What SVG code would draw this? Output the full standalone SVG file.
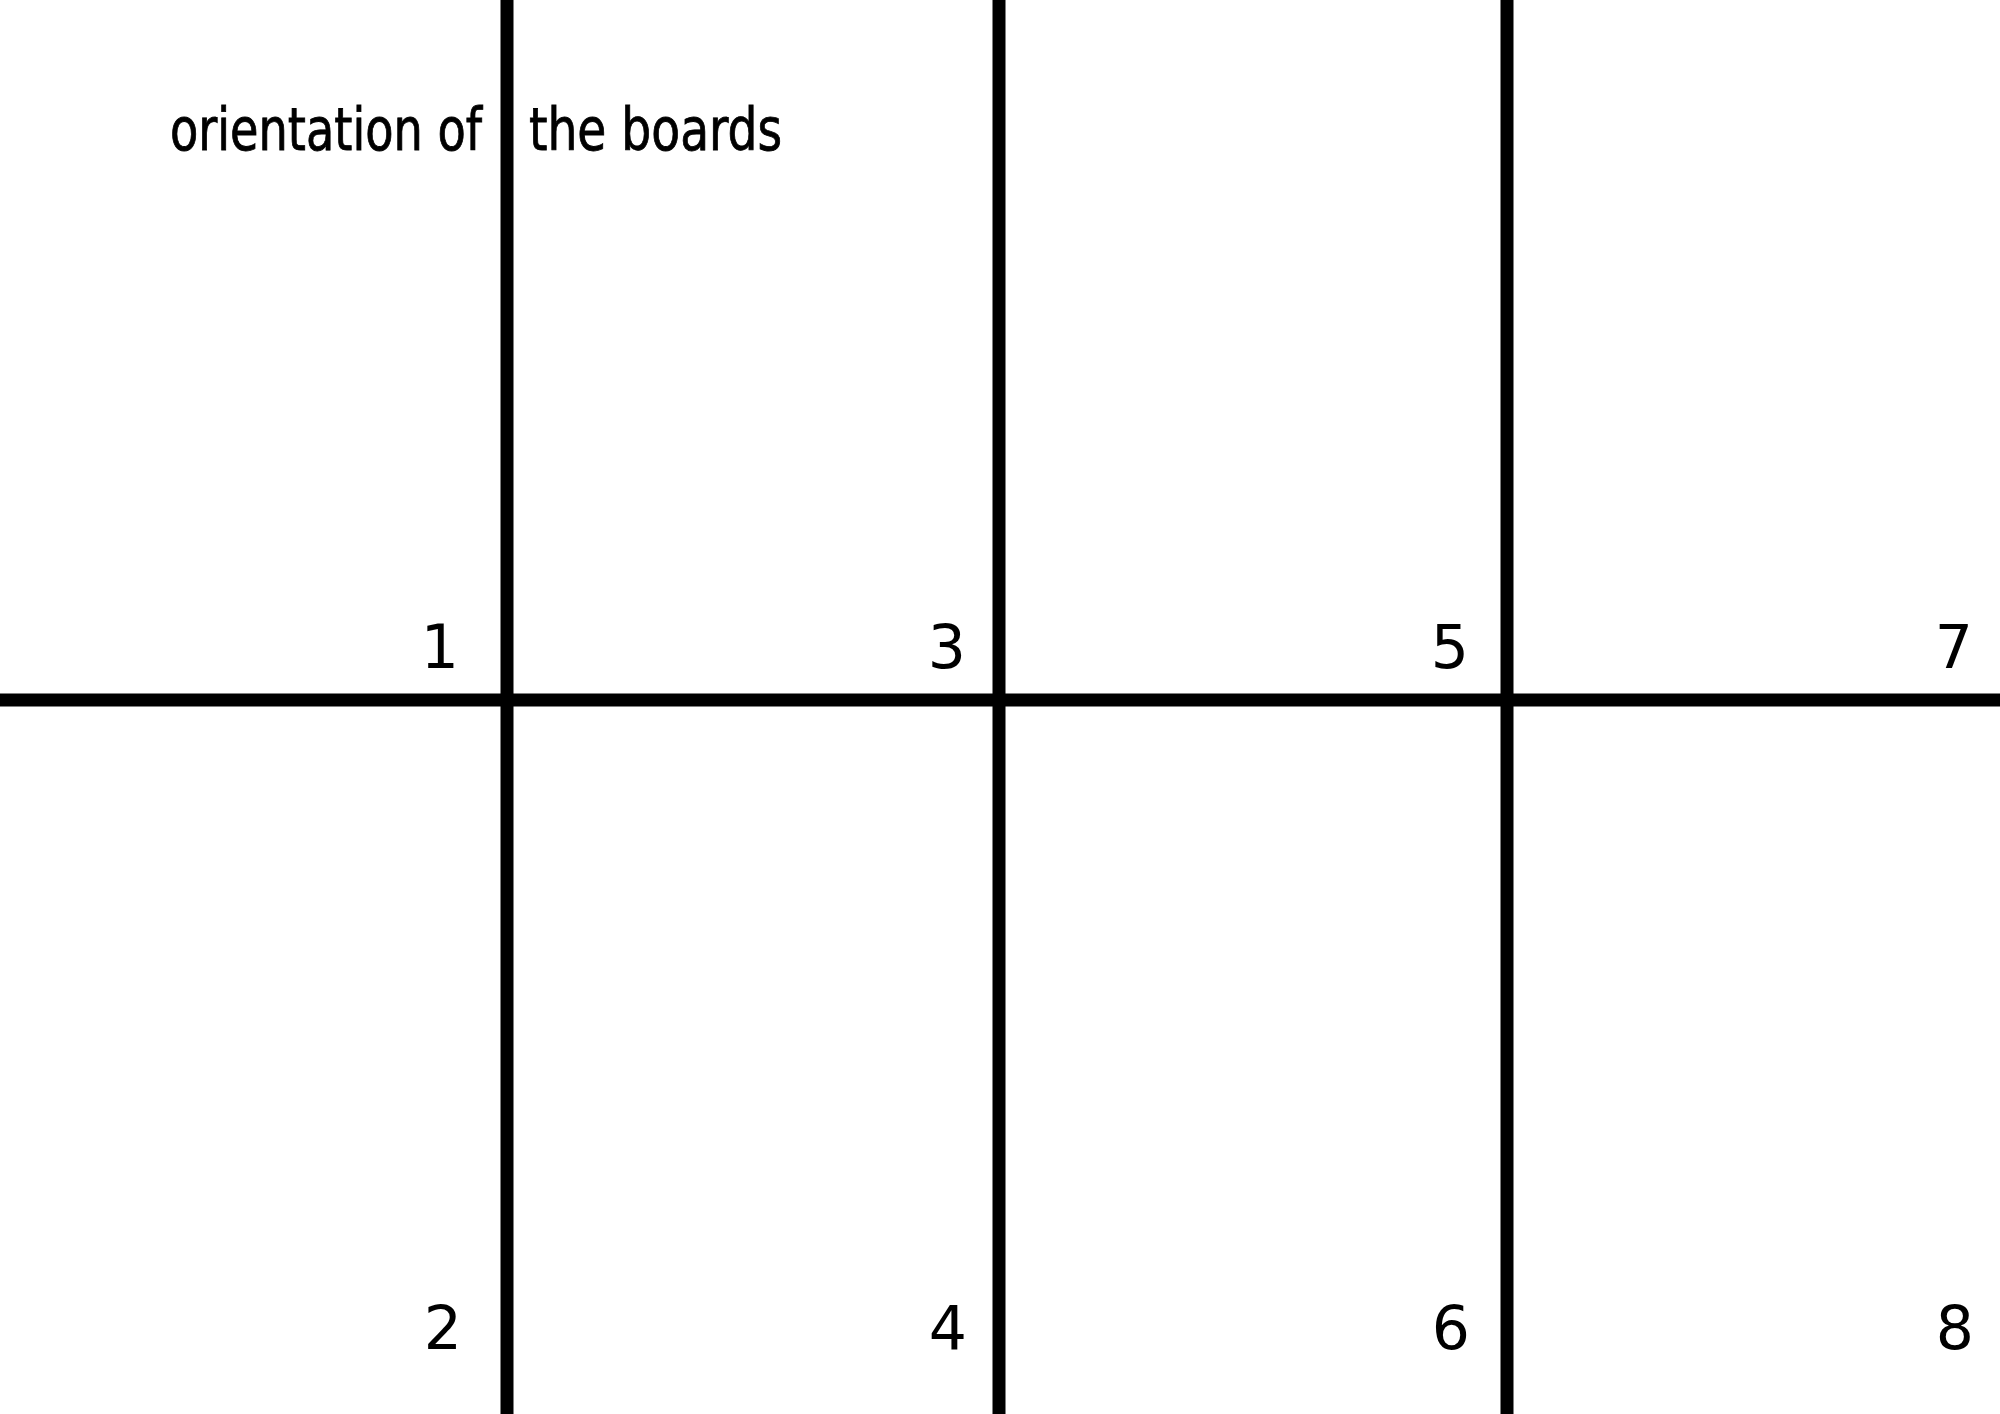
<svg xmlns="http://www.w3.org/2000/svg" width="2000" height="1414" viewBox="0 0 2000 1414">
<style>
.ln{stroke:#000;stroke-width:13;fill:none}
.num{font-family:"DejaVu Sans","Verdana",sans-serif;font-size:60px;fill:#000;text-anchor:end}
.ttl{font-family:"DejaVu Sans Condensed","DejaVu Sans",sans-serif;font-size:59px;fill:#000;stroke:#000;stroke-width:0.8}
</style>
<rect width="2000" height="1414" fill="#fff"/>
<g id="connectors">
<line class="ln" x1="0" y1="700" x2="2000" y2="700"/>
<line class="ln" x1="507" y1="0" x2="507" y2="1414"/>
<line class="ln" x1="999" y1="0" x2="999" y2="1414"/>
<line class="ln" x1="1507" y1="0" x2="1507" y2="1414"/>
</g>
<g id="title">
<text class="ttl" x="170" y="150" textLength="312" lengthAdjust="spacingAndGlyphs">orientation of</text>
<text class="ttl" x="529" y="150" textLength="253" lengthAdjust="spacingAndGlyphs">the boards</text>
</g>
<g id="n1"><text class="num" x="459" y="668">1</text></g>
<g id="n3"><text class="num" x="966" y="668">3</text></g>
<g id="n5"><text class="num" x="1469" y="668">5</text></g>
<g id="n7"><text class="num" x="1973" y="668">7</text></g>
<g id="n2"><text class="num" x="462" y="1349">2</text></g>
<g id="n4"><text class="num" x="967" y="1349">4</text></g>
<g id="n6"><text class="num" x="1470" y="1349">6</text></g>
<g id="n8"><text class="num" x="1974" y="1349">8</text></g>
</svg>
